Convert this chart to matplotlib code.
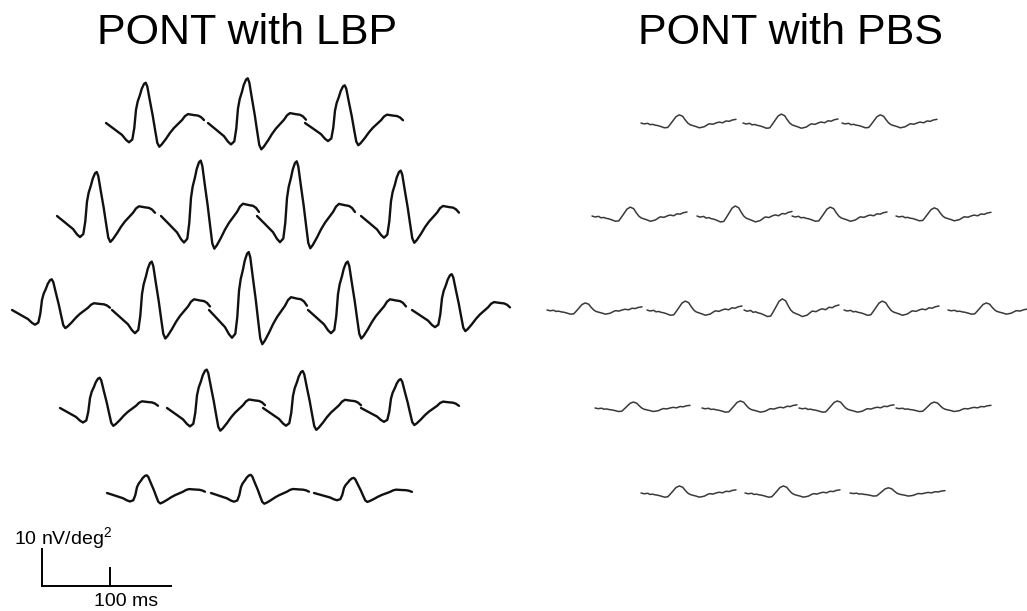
"""Multifocal ERG trace arrays: PONT with LBP vs PONT with PBS."""

import matplotlib
matplotlib.use('Agg')  # Non-interactive backend
import matplotlib.pyplot as plt
import numpy as np

plt.rcParams['font.family'] = ['Liberation Sans', 'DejaVu Sans']
plt.rcParams['mathtext.fontset'] = 'custom'
plt.rcParams['mathtext.rm'] = 'Liberation Sans'
plt.rcParams['mathtext.it'] = 'Liberation Sans:italic'

# Waveform templates (time in ms, shape in arbitrary units)
LBP_TEMPLATE_MS = [0, 5.9, 11.8, 17.6, 23.5, 29.4, 33.8, 38.7, 41.6, 44.1, 46.6,
                   50.0, 52.5, 55.9, 58.4, 60.7, 64.7, 68.7, 72.1, 75.4, 78.4,
                   81.9, 88.2, 94.1, 100, 105.9, 111.8, 116.2, 120.6, 125,
                   129.4, 135.3, 139.7, 144.1]
LBP_TEMPLATE = [0, -3, -6, -9, -12, -17, -19.5, -16.7, -5, 13.3, 21.7, 28.5,
                34.5, 39.5, 40.7, 37, 22, 7.5, -6.7, -20, -24, -21.7, -16, -10,
                -5, -1, 3, 7, 9, 8.5, 8, 7.5, 6, 3]

PBS_TEMPLATE_MS = [0, 4.4, 9.9, 13.2, 17.2, 20.6, 24.6, 29.4, 34.3, 39.3, 42.6,
                   46.6, 51.5, 56.3, 61.3, 64.7, 68.7, 72.1, 76.0, 80.9, 85.7,
                   89.7, 93.1, 97.1, 100.4, 105.9, 110.3, 114.7, 120.1, 125,
                   129.9, 133.8, 139.7]
PBS_TEMPLATE = [0, -0.8, -0.3, -1.5, -1.2, -1.9, -2.3, -3.2, -4.3, -4, -1.5,
                1.7, 5.7, 7.3, 6, 3, 0, -1.5, -2.3, -3.2, -4.3, -3.8, -3.3,
                -1.8, -0.7, -1.1, 0, 0.8, 0.2, 1.8, 1.5, 2.6, 3.3]

# Amplitudes per trace (nV/deg^2), rows top to bottom, traces left to right
LBP_AMP = [
    [17.3, 19.2, 16.2],
    [18.9, 23.8, 23.5, 19.5],
    [13.2, 20.8, 24.9, 20.8, 15.4],
    [13.0, 16.5, 15.9, 12.4],
    [7.6, 7.8, 6.5],
]
PBS_AMP = [
    [2.2, 2.4, 2.2],
    [2.4, 2.7, 2.4, 2.2],
    [1.9, 2.4, 3.0, 2.4, 1.9],
    [1.6, 1.9, 1.9, 1.6],
    [1.9, 1.9, 1.4],
]

TITLES = ['PONT with LBP', 'PONT with PBS']
SCALE_V = 10    # nV/deg^2
SCALE_T = 100   # ms

# Layout (pixels of the 1027x611 figure)
W, H = 1027, 611
PX_PER_MS = 0.68
PX_PER_NV = 3.7
ROW_BASE = [123, 216, 310, 408, 493]
LBP_STARTS = [[106, 208, 305], [57, 161, 257, 361], [12, 112, 209, 308, 412],
              [60, 167, 263, 361], [107, 211, 314]]
PBS_STARTS = [[641, 743, 842], [592, 697, 792, 896], [547, 647, 744, 844, 948],
              [595, 702, 799, 896], [641, 745, 850]]

XLIM = (0, 150)
YLIM = (-20, 20)


def trace_axes(fig, left_px, base_px):
    w = (XLIM[1] - XLIM[0]) * PX_PER_MS
    h = (YLIM[1] - YLIM[0]) * PX_PER_NV
    bottom = base_px + (0 - YLIM[0]) * PX_PER_NV
    ax = fig.add_axes([left_px / W, 1 - bottom / H, w / W, h / H])
    ax.set_xlim(*XLIM)
    ax.set_ylim(*YLIM)
    ax.axis('off')
    return ax


def draw_array(fig, t_ms, shape, amps, starts, color, lw, peak_norm=False):
    shape = np.array(shape, dtype=float)
    # LBP amplitudes are trough-to-peak, PBS amplitudes are baseline-to-peak
    norm = shape / shape.max() if peak_norm else shape / (shape.max() - shape.min())
    for r, row in enumerate(amps):
        for amp, x0 in zip(row, starts[r]):
            ax = trace_axes(fig, x0, ROW_BASE[r])
            ax.plot(t_ms, norm * amp, color=color, lw=lw, clip_on=False,
                    solid_joinstyle='round', solid_capstyle='round')


fig = plt.figure(figsize=(W / 100, H / 100), dpi=100)

draw_array(fig, LBP_TEMPLATE_MS, LBP_TEMPLATE, LBP_AMP, LBP_STARTS, '#111111', 1.7)
draw_array(fig, PBS_TEMPLATE_MS, PBS_TEMPLATE, PBS_AMP, PBS_STARTS, '#3a3a3a', 1.1,
           peak_norm=True)

fig.text(247 / W, 1 - 33 / H, TITLES[0], fontsize=31, ha='center', va='center')
fig.text(790 / W, 1 - 33 / H, TITLES[1], fontsize=31, ha='center', va='center')

# Scale bar
sax = trace_axes(fig, 42, 586)
sax.plot([0, 0], [0, SCALE_V], color='black', lw=1.4, clip_on=False)
sax.plot([0, 189], [0, 0], color='black', lw=1.4, clip_on=False)
sax.plot([SCALE_T, SCALE_T], [0, 4.8], color='black', lw=1.4, clip_on=False)
sax.text(-41, 12.9, '10 nV/deg$^{2}$', fontsize=14, ha='left', va='center')
sax.text(124, -4.3, '100 ms', fontsize=14, ha='center', va='center')

fig.savefig('out.png', dpi=100)
plt.close(fig)
